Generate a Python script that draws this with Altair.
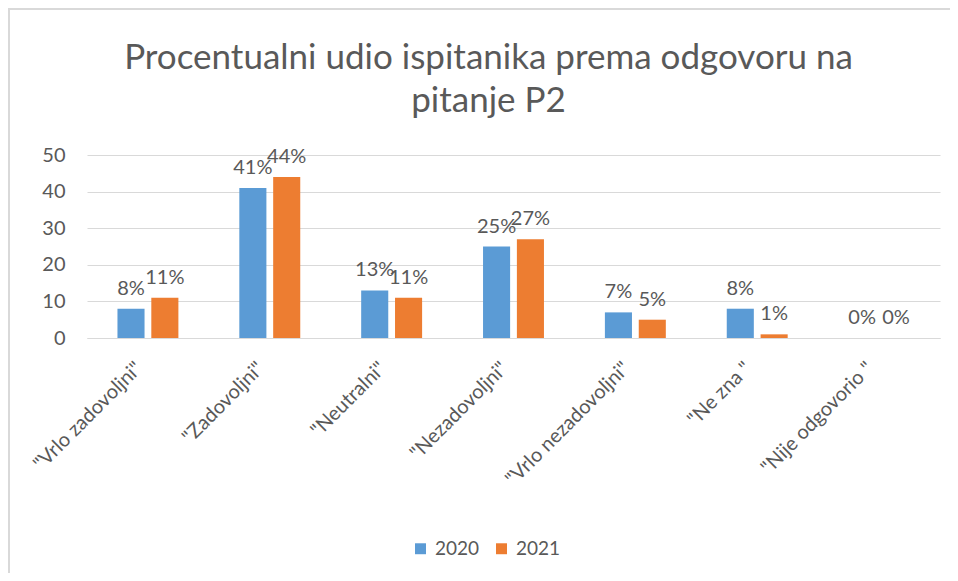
import altair as alt
import pandas as pd

categories = ['"Vrlo zadovoljni"', '"Zadovoljni"', '"Neutralni"', '"Nezadovoljni"',
              '"Vrlo nezadovoljni"', '"Ne zna "', '"Nije odgovorio "']
years = ["2020", "2021"]
values_2020 = [8, 41, 13, 25, 7, 8, 0]
values_2021 = [11, 44, 11, 27, 5, 1, 0]

rows = []
for c, v0, v1 in zip(categories, values_2020, values_2021):
    rows.append({"cat": c, "year": "2020", "val": v0, "lab": f"{v0}%"})
    rows.append({"cat": c, "year": "2021", "val": v1, "lab": f"{v1}%"})
df = pd.DataFrame(rows)

FONT = "Lato"
GRAY = "#595959"

x_enc = alt.X("cat:N", sort=categories, title=None,
              scale=alt.Scale(paddingInner=0.5, paddingOuter=0.25),
              axis=alt.Axis(labelAngle=-45, labelAlign="right", labelBaseline="top",
                            labelFontSize=20, labelColor=GRAY,
                            labelFont=FONT, ticks=False, domain=True,
                            domainColor="#D9D9D9", labelPadding=20,
                            labelOffset=-16,
                            labelLimit=300))
y_enc = alt.Y("val:Q", title=None,
              scale=alt.Scale(domain=[0, 50]),
              axis=alt.Axis(values=[0, 10, 20, 30, 40, 50], labelFontSize=20,
                            labelColor=GRAY, labelFont=FONT, ticks=False,
                            labelOverlap=False,
                            domain=False, gridColor="#D9D9D9", labelPadding=22))
xoff = alt.XOffset("year:N", sort=years, scale=alt.Scale(paddingInner=0.2, paddingOuter=0))
color = alt.Color("year:N", sort=years,
                  scale=alt.Scale(domain=years, range=["#5B9BD5", "#ED7D31"]),
                  legend=alt.Legend(title=None, orient="none", legendX=324, legendY=384,
                                    direction="horizontal", symbolType="square",
                                    symbolSize=120, symbolStrokeWidth=0,
                                    labelFontSize=19, labelColor=GRAY, labelFont=FONT,
                                    columnPadding=12, labelOffset=5))

base = alt.Chart(df)

bars = base.mark_bar().encode(x=x_enc, xOffset=xoff, y=y_enc, color=color)

labels = base.mark_text(fontSize=20, font=FONT, color=GRAY, baseline="alphabetic", dy=-14).encode(
    x=x_enc, xOffset=xoff, y=y_enc, text="lab:N",
)

frame_df = pd.DataFrame({"a": [0]})
frame = alt.Chart(frame_df).mark_rect(fill=None, stroke="#D9D9D9", strokeWidth=2).encode(
    x=alt.value(-78), x2=alt.value(900), y=alt.value(-146), y2=alt.value(600)
)

chart = alt.layer(frame, bars, labels).properties(
    width=853, height=183,
    background="white",
    title=alt.Title(["Procentualni udio ispitanika prema odgovoru na", "pitanje P2"],
                    fontSize=35, fontWeight="normal", color=GRAY, font=FONT,
                    lineHeight=43, anchor="middle", frame="group", dx=-25, offset=-111),
    padding={"left": 79, "top": 147, "right": 10, "bottom": 235},
    autosize=alt.AutoSizeParams(type="none"),
).configure_view(stroke=None)

chart.save("out.html", embed_options={"renderer": "svg", "actions": False})
